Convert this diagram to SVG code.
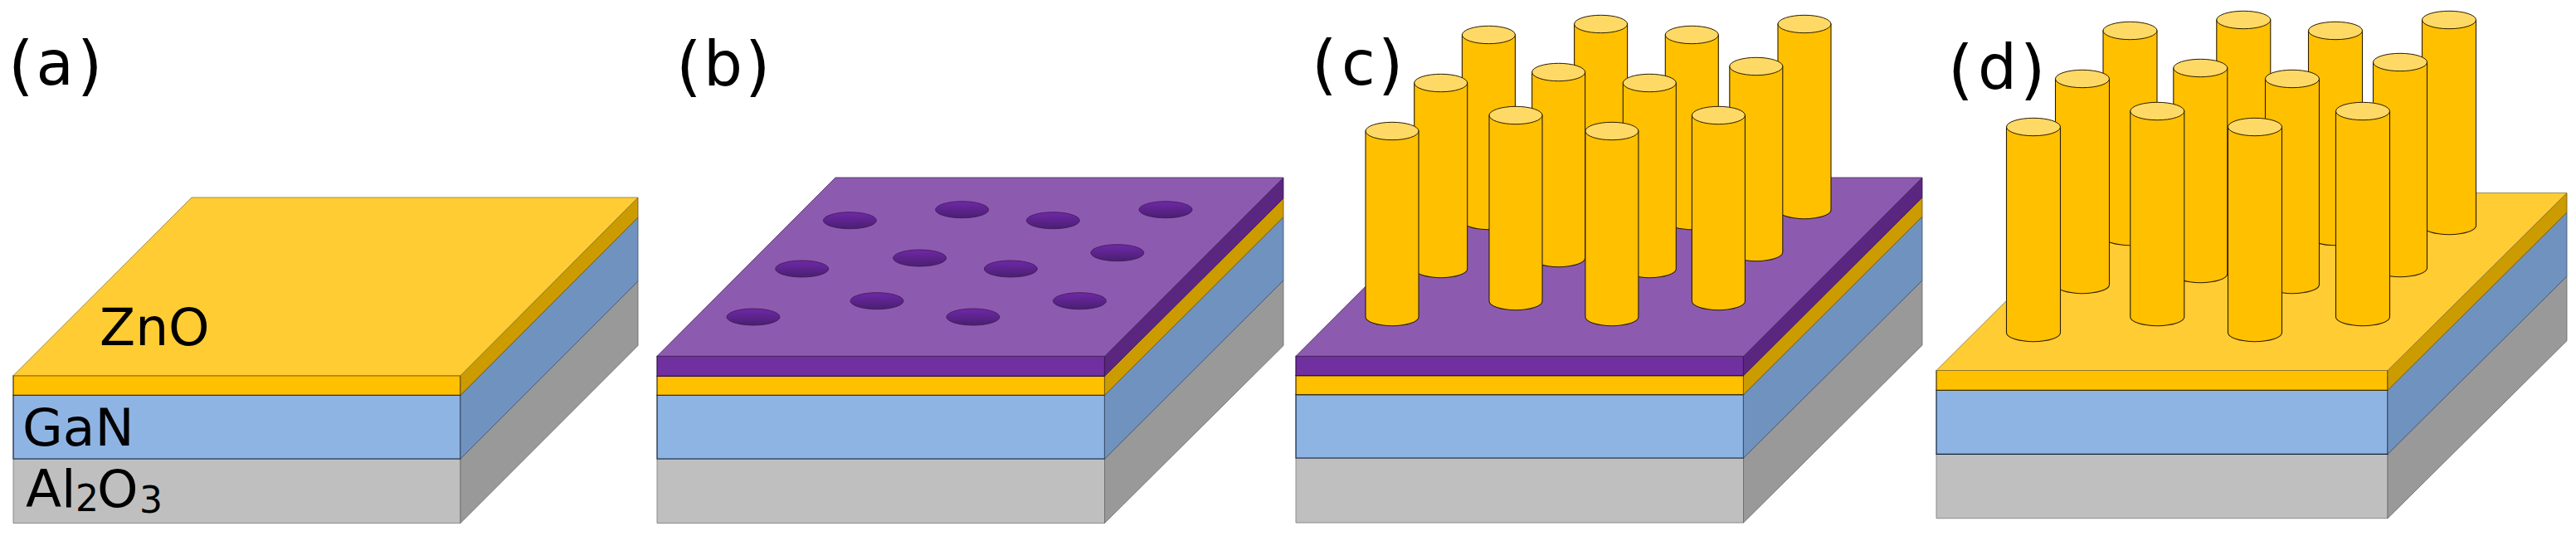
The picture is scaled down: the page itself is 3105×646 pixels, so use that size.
<svg xmlns="http://www.w3.org/2000/svg" width="3105" height="646" viewBox="0 0 3105 646">
<style>
text{font-family:"DejaVu Sans",sans-serif;fill:#000}
.lab{font-size:78px}
.let{font-size:74px}
.mat{font-size:63px}
.sub{font-size:44px}
.yt{fill:#FFCC33;stroke:#8a7a3a;stroke-width:.8}
.yf{fill:#FFC000;stroke:#3d2f00;stroke-width:1.2}
.ys{fill:#CC9B00;stroke:#6b5410;stroke-width:.8}
.bf{fill:#8EB4E3;stroke:#10203a;stroke-width:1.2}
.bs{fill:#7092BE;stroke:#3d4f66;stroke-width:.8}
.gf{fill:#BFBFBF;stroke:#8c8c8c;stroke-width:1}
.gs{fill:#999999;stroke:#666;stroke-width:.8}
.pt{fill:#8C5BB0;stroke:#4a2a66;stroke-width:.8}
.pf{fill:#7030A0;stroke:#2e1145;stroke-width:1.2}
.ps{fill:#5A2680;stroke:#3a1852;stroke-width:.8}
.rod{fill:#FFC000;stroke:#2a1c00;stroke-width:1.1}
.cap{fill:#FFD966;stroke:#2a1c00;stroke-width:1}
.hole{fill:url(#hg);stroke:#3a1852;stroke-width:.8}
</style>
<defs>
<linearGradient id="hg" x1="0" y1="0" x2="0" y2="1"><stop offset="0" stop-color="#7028A8"/><stop offset="1" stop-color="#4A1F70"/></linearGradient>
<g id="rodC"><path class="rod" d="M-32 0V224A32 10.7 0 0 0 32 224V0Z"/><ellipse class="cap" rx="32" ry="10.7"/></g>
<g id="rodD"><path class="rod" d="M-32.5 0V248A32.5 10.7 0 0 0 32.5 248V0Z"/><ellipse class="cap" rx="32.5" ry="10.7"/></g>
<ellipse id="h" class="hole" rx="32" ry="10"/>
</defs>

<g id="panel-a">
<polygon class="gf" points="16,553 555,553 555,630.5 16,630.5"/>
<polygon class="gs" points="555,553 769,339 769,416.5 555,630.5"/>
<polygon class="bf" points="16,476.3 555,476.3 555,553 16,553"/>
<polygon class="bs" points="555,476.3 769,262 769,339 555,553"/>
<polygon class="yf" points="16,452.7 555,452.7 555,476.3 16,476.3"/>
<polygon class="ys" points="555,452.7 769,238 769,262 555,476.3"/>
<polygon class="yt" points="16,452.7 231,238 769,238 555,452.7"/>
<text class="lab" y="106"><tspan x="10">(</tspan><tspan class="let" x="43.5" y="102">a</tspan><tspan x="93" y="106">)</tspan></text>
<text class="mat" x="120" y="416">ZnO</text>
<text class="mat" x="27" y="536.5">GaN</text>
<text class="mat" x="31" y="611">Al</text><text class="sub" x="91" y="616">2</text><text class="mat" x="117" y="611">O</text><text class="sub" x="168" y="618">3</text>
</g>

<g id="panel-b">
<polygon class="gf" points="792,553 1331.5,553 1331.5,630.5 792,630.5"/>
<polygon class="gs" points="1331.5,553 1547,338 1547,416.5 1331.5,630.5"/>
<polygon class="bf" points="792,476.3 1331.5,476.3 1331.5,553 792,553"/>
<polygon class="bs" points="1331.5,476.3 1547,261.5 1547,338 1331.5,553"/>
<polygon class="yf" points="792,453.3 1331.5,453.3 1331.5,476.3 792,476.3"/>
<polygon class="ys" points="1331.5,453.3 1547,239 1547,261.5 1331.5,476.3"/>
<polygon class="pf" points="792,429.3 1331.5,429.3 1331.5,453.3 792,453.3"/>
<polygon class="ps" points="1331.5,429.3 1547,214 1547,239 1331.5,453.3"/>
<polygon class="pt" points="792,429.3 1007,214 1547,214 1331.5,429.3"/>
<use href="#h" x="1024.4" y="265.7"/><use href="#h" x="1159.6" y="252.7"/><use href="#h" x="1269.3" y="265.7"/><use href="#h" x="1405" y="252.7"/>
<use href="#h" x="1346.8" y="304.7"/><use href="#h" x="1108.6" y="311"/><use href="#h" x="966.7" y="324"/><use href="#h" x="1218.3" y="324"/>
<use href="#h" x="1057" y="362.7"/><use href="#h" x="1301.4" y="362.7"/><use href="#h" x="908" y="382"/><use href="#h" x="1172.9" y="382"/>
<text class="lab" y="107"><tspan x="815">(</tspan><tspan class="let" x="848" y="103">b</tspan><tspan x="898" y="107">)</tspan></text>
</g>

<g id="panel-c">
<polygon class="gf" points="1562,552 2101.5,552 2101.5,630 1562,630"/>
<polygon class="gs" points="2101.5,552 2317,338 2317,416 2101.5,630"/>
<polygon class="bf" points="1562,475.7 2101.5,475.7 2101.5,552 1562,552"/>
<polygon class="bs" points="2101.5,475.7 2317,261 2317,338 2101.5,552"/>
<polygon class="yf" points="1562,452.7 2101.5,452.7 2101.5,475.7 1562,475.7"/>
<polygon class="ys" points="2101.5,452.7 2317,238 2317,261 2101.5,475.7"/>
<polygon class="pf" points="1562,429.3 2101.5,429.3 2101.5,452.7 1562,452.7"/>
<polygon class="ps" points="2101.5,429.3 2317,214 2317,238 2101.5,452.7"/>
<polygon class="pt" points="1562,429.3 1777,214 2317,214 2101.5,429.3"/>
<use href="#rodC" x="1929.6" y="29"/><use href="#rodC" x="2175" y="29"/>
<use href="#rodC" x="1794.4" y="42"/><use href="#rodC" x="2039.3" y="42"/>
<use href="#rodC" x="2116.8" y="80"/><use href="#rodC" x="1878.6" y="87"/>
<use href="#rodC" x="1736.7" y="100"/><use href="#rodC" x="1988.3" y="100"/>
<use href="#rodC" x="1827" y="139"/><use href="#rodC" x="2071.4" y="139"/>
<use href="#rodC" x="1678" y="158"/><use href="#rodC" x="1942.9" y="158"/>
<text class="lab" y="105"><tspan x="1581">(</tspan><tspan class="let" x="1617" y="102">c</tspan><tspan x="1661" y="105">)</tspan></text>
</g>

<g id="panel-d">
<polygon class="gf" points="2334,547.3 2878,547.3 2878,624.7 2334,624.7"/>
<polygon class="gs" points="2878,547.3 3094,333 3094,410.7 2878,624.7"/>
<polygon class="bf" points="2334,470.4 2878,470.4 2878,547.3 2334,547.3"/>
<polygon class="bs" points="2878,470.4 3094,256 3094,333 2878,547.3"/>
<polygon class="yf" points="2334,446.5 2878,446.5 2878,470.4 2334,470.4"/>
<polygon class="ys" points="2878,446.5 3094,232.5 3094,256 2878,470.4"/>
<polygon class="yt" points="2334,446.5 2549,232.5 3094,232.5 2878,446.5"/>
<use href="#rodD" x="2704.3" y="24"/><use href="#rodD" x="2952" y="24"/>
<use href="#rodD" x="2567.5" y="37"/><use href="#rodD" x="2815" y="37"/>
<use href="#rodD" x="2893" y="75"/><use href="#rodD" x="2652.3" y="82"/>
<use href="#rodD" x="2510" y="95"/><use href="#rodD" x="2763" y="95"/>
<use href="#rodD" x="2600.3" y="134"/><use href="#rodD" x="2848" y="134"/>
<use href="#rodD" x="2451" y="153"/><use href="#rodD" x="2718" y="153"/>
<text class="lab" y="111"><tspan x="2348">(</tspan><tspan class="let" x="2384" y="107">d</tspan><tspan x="2435" y="111">)</tspan></text>
</g>
</svg>
